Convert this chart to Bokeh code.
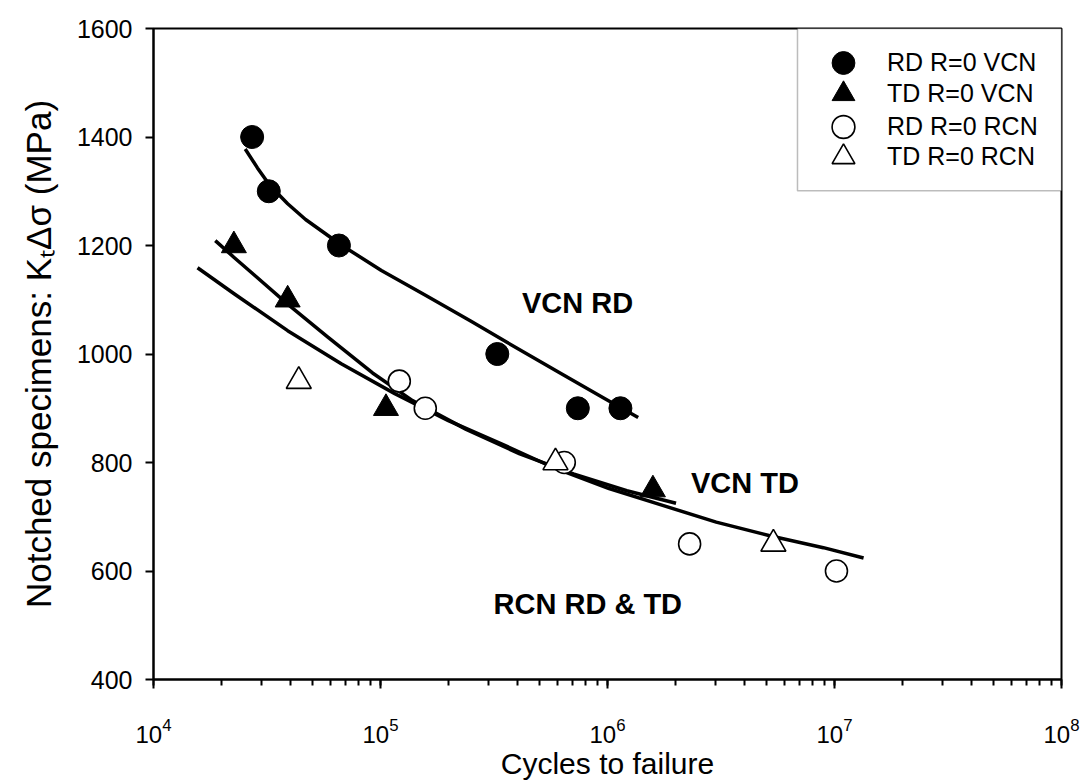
from bokeh.plotting import figure
from bokeh.models import (Range1d, LogAxis, LinearAxis, Legend, LegendItem, Label,
                          FixedTicker, LogTicker, LogScale, BoxAnnotation)
from bokeh.embed import file_html
from bokeh.resources import INLINE

# ---- data ----
rd_vcn_n = [27200, 32200, 65600, 327000, 740000, 1140000]
rd_vcn_s = [1400, 1300, 1200, 1000, 900, 900]

td_vcn_n = [22600, 39000, 105700, 1585000]
td_vcn_s = [1200, 1100, 900, 750]

rd_rcn_n = [121000, 157500, 645000, 2300000, 10200000]
rd_rcn_s = [950, 900, 800, 650, 600]

td_rcn_n = [43650, 590000, 5380000]
td_rcn_s = [950, 800, 650]

# fitted curves
fit_rd_vcn_n = [25350, 28700, 32510, 39000, 46770, 67140, 100900, 158500, 249500, 358900,
                618000, 970500, 1365000]
fit_rd_vcn_s = [1378, 1343, 1311, 1277, 1248, 1201, 1154, 1108, 1061, 1022, 965, 918, 883]

fit_td_vcn_n = [18710, 22650, 38990, 58630, 92250, 138400, 238400, 410800, 707700, 1217000, 2004000]
fit_td_vcn_s = [1209, 1178, 1092, 1031, 965, 914, 861, 816, 779, 748, 725]

fit_rcn_n = [15630, 22650, 38990, 67140, 115600, 199000, 342900, 590200, 1016000, 1750000,
             3013000, 5187000, 8933000, 13430000]
fit_rcn_s = [1159, 1111, 1043, 982, 927, 877, 834, 789, 752, 721, 690, 665, 643, 624]

series_labels = ["RD R=0 VCN", "TD R=0 VCN", "RD R=0 RCN", "TD R=0 RCN"]
curve_labels = ["VCN RD", "VCN TD", "RCN RD & TD"]

FONT = "Liberation Sans"

p = figure(frame_width=908, frame_height=651, x_axis_type=None, y_axis_location=None,
           x_range=Range1d(1e4, 1e8), y_range=Range1d(400, 1600),
           output_backend="svg", toolbar_location=None,
           min_border_left=153, min_border_right=20, min_border_top=28, min_border_bottom=20)
p.x_scale = LogScale()
p.grid.visible = False
p.outline_line_color = "black"
p.outline_line_width = 2
p.background_fill_color = "white"
p.border_fill_color = "white"

xaxis = LogAxis(ticker=LogTicker(num_minor_ticks=10, mantissas=[1]),
                axis_label="Cycles to failure")
xaxis.axis_line_width = 2
xaxis.major_tick_line_width = 2
xaxis.minor_tick_line_width = 2
xaxis.major_tick_out = 9
xaxis.major_tick_in = 0
xaxis.minor_tick_out = 6
xaxis.minor_tick_in = 0
xaxis.major_label_text_font = FONT
xaxis.major_label_text_font_size = "24px"
xaxis.major_label_text_color = "black"
xaxis.major_label_standoff = 29
xaxis.axis_label_text_font = FONT
xaxis.axis_label_text_font_size = "30px"
xaxis.axis_label_text_font_style = "normal"
xaxis.axis_label_text_color = "black"
xaxis.axis_label_standoff = 1
p.add_layout(xaxis, "below")

yaxis = LinearAxis(ticker=FixedTicker(ticks=[400, 600, 800, 1000, 1200, 1400, 1600]),
                   axis_label="Notched specimens: KₜΔσ (MPa)")
yaxis.axis_line_width = 2
yaxis.major_tick_line_width = 2
yaxis.major_tick_out = 8
yaxis.major_tick_in = 0
yaxis.minor_tick_out = 0
yaxis.minor_tick_in = 0
yaxis.major_label_text_font = FONT
yaxis.major_label_text_font_size = "25px"
yaxis.major_label_text_color = "black"
yaxis.major_label_standoff = 13
yaxis.axis_label_text_font = FONT
yaxis.axis_label_text_font_size = "35px"
yaxis.axis_label_text_font_style = "normal"
yaxis.axis_label_text_color = "black"
yaxis.axis_label_standoff = 16
p.add_layout(yaxis, "left")

# curves
LW = 3.5
p.line(fit_rd_vcn_n, fit_rd_vcn_s, line_color="black", line_width=LW, line_join="round")
p.line(fit_td_vcn_n, fit_td_vcn_s, line_color="black", line_width=LW, line_join="round")
p.line(fit_rcn_n, fit_rcn_s, line_color="black", line_width=LW, line_join="round")

# points
r1 = p.scatter(rd_vcn_n, rd_vcn_s, marker="circle", size=23, fill_color="black", line_color="black")
r2 = p.scatter(td_vcn_n, td_vcn_s, marker="triangle", size=25, fill_color="black", line_color="black")
r3 = p.scatter(rd_rcn_n, rd_rcn_s, marker="circle", size=22, fill_color="white", line_color="black", line_width=1.6)
r4 = p.scatter(td_rcn_n, td_rcn_s, marker="triangle", size=25, fill_color="white", line_color="black", line_width=1.6)

# legend frame (top-right corner of the plot)
p.add_layout(BoxAnnotation(left=6.87e6, right=1e8, bottom=1301, top=1600,
                           fill_color="white", fill_alpha=1.0,
                           line_color="#222222", line_width=1.5, level="annotation"))

# legend entries: one legend per row so the rows can sit close with large symbols
row_bottoms = [588, 557, 524, 494]
for rend, lab, yb in zip([r1, r2, r3, r4], series_labels, row_bottoms):
    lg = Legend(items=[LegendItem(label=lab, renderers=[rend])],
                location=(650, yb), margin=0, padding=0, spacing=0,
                glyph_width=80, glyph_height=57, label_height=26, label_width=160,
                label_standoff=4,
                label_text_font=FONT, label_text_font_size="25px",
                label_text_color="black",
                border_line_color=None, background_fill_alpha=0.0)
    p.add_layout(lg, "center")

# curve annotations
for txt, x, y in [(curve_labels[0], 419700, 1094), (curve_labels[1], 2330000, 763),
                  (curve_labels[2], 314800, 540)]:
    p.add_layout(Label(x=x, y=y, text=txt, text_font=FONT, text_font_size="29px",
                       text_font_style="bold", text_color="black", text_align="left",
                       text_baseline="alphabetic"))

open("out.html", "w").write(file_html(p, INLINE))
